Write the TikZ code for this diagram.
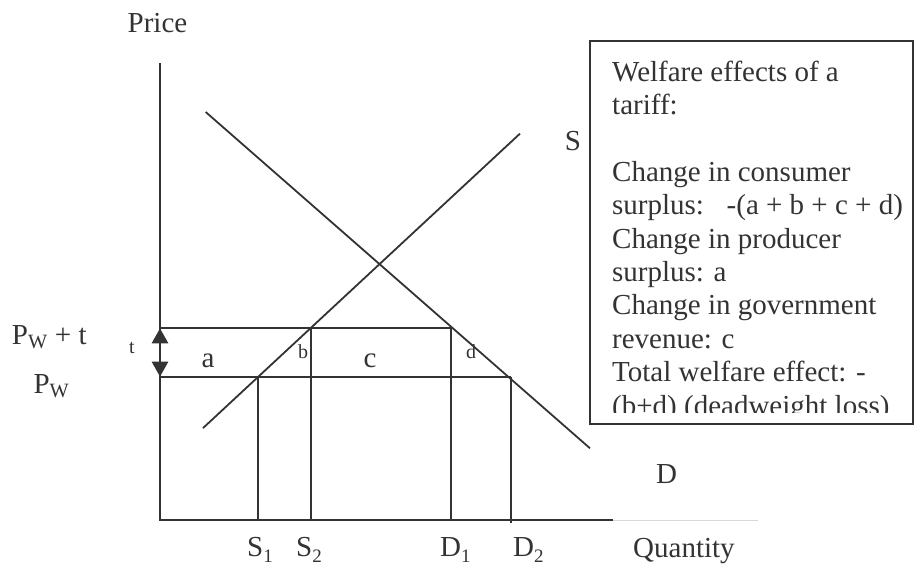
\documentclass[tikz,border=0pt]{standalone}
\usepackage{fontspec}
\setmainfont{Liberation Serif}
\usetikzlibrary{arrows.meta}
\definecolor{ink}{RGB}{51,51,51}
\newcommand{\lowsub}[1]{\raisebox{-0.22em}{\fontsize{19}{19}\selectfont #1}}
\begin{document}
\begin{tikzpicture}[x=1pt,y=-1pt,
  lbl/.style={font=\fontsize{29}{33.4}\selectfont, text=ink, inner sep=0pt},
  smalllbl/.style={font=\fontsize{20}{23}\selectfont, text=ink, inner sep=0pt},
  curve/.style={draw=ink, line width=1.8pt},
  axisline/.style={draw=ink, line width=2.2pt},
  guide/.style={draw=ink, line width=1.8pt},
  faint/.style={draw=black!15, line width=1pt},
  tarrow/.style={draw=ink, line width=2.6pt, {Triangle[length=15pt,width=16pt]}-{Triangle[length=15pt,width=16pt]}},
  boxline/.style={draw=ink, line width=2.2pt}]
\useasboundingbox (0,0) rectangle (915,565);
% coordinates
\coordinate (O) at (160,520);
\coordinate (Ytop) at (160,63);
\coordinate (Xend) at (613,520);
\coordinate (Xfaint) at (758,520);
\coordinate (Dstart) at (205.7,112);
\coordinate (Dend) at (590,448.3);
\coordinate (Sstart) at (203,428.1);
\coordinate (Send) at (520,133.6);
\coordinate (PwtL) at (160,328.3);
\coordinate (PwtR) at (451,328.3);
\coordinate (PwL) at (160,376.7);
\coordinate (PwR) at (511,376.7);
\coordinate (S1top) at (258.3,376.7);
\coordinate (S1bot) at (258.3,520);
\coordinate (S2top) at (310.7,328.3);
\coordinate (S2bot) at (310.7,520);
\coordinate (D1top) at (451,328.3);
\coordinate (D1bot) at (451,520);
\coordinate (D2top) at (511,376.7);
\coordinate (D2bot) at (511,523);
% axes
\draw[faint] (Xend) -- (Xfaint);
\draw[axisline] (Ytop) -- (O) -- (Xend);
% curves
\draw[curve] (Dstart) -- (Dend);
\draw[curve] (Sstart) -- (Send);
% guides
\draw[guide] (PwtL) -- (PwtR);
\draw[guide] (PwL) -- (PwR);
\draw[guide] (S1top) -- (S1bot);
\draw[guide] (S2top) -- (S2bot);
\draw[guide] (D1top) -- (D1bot);
\draw[guide] (D2top) -- (D2bot);
% tariff arrow
\draw[tarrow] (PwtL) -- (PwL);
% labels
\node[lbl, anchor=base] (price) at (157.5,32) {Price};
\node[lbl, anchor=base] (slab) at (573,150) {S};
\node[lbl, anchor=base] (dlab) at (666.7,483) {D};
\node[lbl, anchor=base west] (qty) at (633,557) {Quantity};
\node[lbl, anchor=base west] (s1) at (247,556) {S\lowsub{1}};
\node[lbl, anchor=base west] (s2) at (296,556) {S\lowsub{2}};
\node[lbl, anchor=base west] (d1) at (440,556) {D\lowsub{1}};
\node[lbl, anchor=base west] (d2) at (513,556) {D\lowsub{2}};
\node[lbl, anchor=base] (pwt) at (49.3,344) {P\textsubscript{W} + t};
\node[lbl, anchor=base] (pw) at (51.5,393) {P\textsubscript{W}};
\node[smalllbl, anchor=base] (tl) at (132,353) {t};
\node[lbl, anchor=base] (al) at (208,367) {a};
\node[smalllbl, anchor=base] (bl) at (303,358) {b};
\node[lbl, anchor=base] (cl) at (370,367) {c};
\node[smalllbl, anchor=base] (dl) at (471,358) {d};
% welfare box
\begin{scope}
\clip (590,40.7) rectangle (913,412);
\node[lbl, anchor=base west] (w1) at (612,81) {Welfare effects of a};
\node[lbl, anchor=base west] (w2) at (612,114.4) {tariff:};
\node[lbl, anchor=base west] (w3) at (612,181.2) {Change in consumer};
\node[lbl, anchor=base west] (w4) at (612,214.6) {surplus: \hspace{13pt}-(a + b + c + d)};
\node[lbl, anchor=base west] (w5) at (612,248) {Change in producer};
\node[lbl, anchor=base west] (w6) at (612,281.4) {surplus: a};
\node[lbl, anchor=base west] (w7) at (612,314.8) {Change in government};
\node[lbl, anchor=base west] (w8) at (612,348.2) {revenue: c};
\node[lbl, anchor=base west] (w9) at (612,381.6) {Total welfare effect: -};
\node[lbl, anchor=base west] (w10) at (612,415) {(b+d) (deadweight loss)};
\end{scope}
\draw[boxline] (590,40.7) rectangle (913,424);
\end{tikzpicture}
\end{document}
